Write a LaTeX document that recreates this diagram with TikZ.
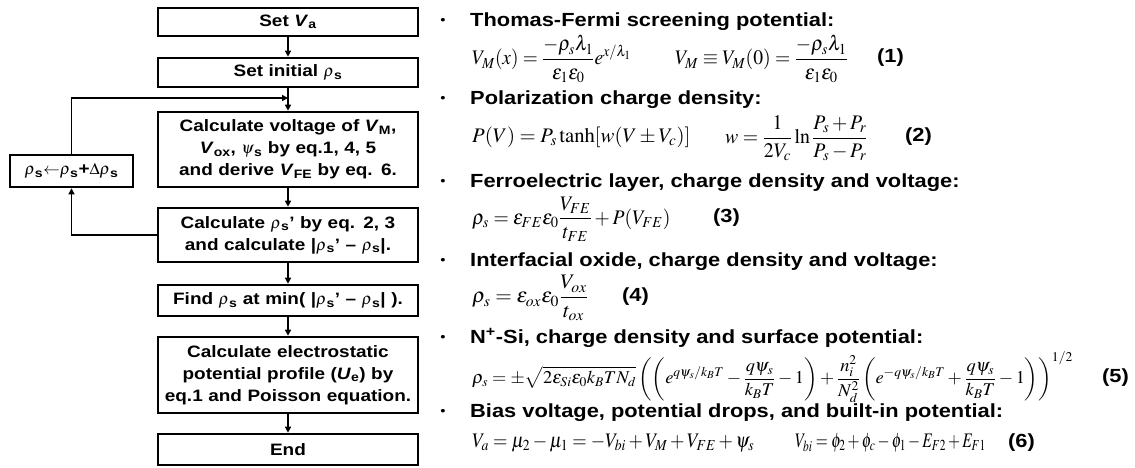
\documentclass[tikz,border=0pt]{standalone}
\usepackage{mathptmx}
\usepackage[no-math]{fontspec}
\setmainfont{Liberation Sans}[FakeStretch=1.15]
\usepackage{graphicx}
\usetikzlibrary{arrows.meta}
\newcommand\flowfont{\fontsize{16.5}{22}\selectfont\bfseries}
\newcommand\headfont{\fontsize{19}{22}\selectfont\bfseries}
\newcommand\eqfont{\fontsize{18}{21}\selectfont}
\newcommand\eqn[3]{\scalebox{#1}[#2]{\eqfont$\displaystyle #3$}}
\tikzset{
  fbox/.style={draw, line width=2.6pt, minimum width=260pt, text width=250pt, align=center, font=\flowfont, inner sep=0pt},
  conn/.style={line width=1.6pt, -{Triangle[length=6pt,width=6pt]}},
  head/.style={anchor=base west, font=\headfont, inner sep=0pt},
  bul/.style={anchor=base, font=\fontsize{13}{15}\selectfont, inner sep=0pt},
  eq/.style={anchor=west, inner sep=0pt},
  eqnum/.style={anchor=west, font=\headfont, inner sep=0pt}
}
\begin{document}
\begin{tikzpicture}[x=1pt,y=-1pt]
\useasboundingbox[fill=white] (0,0) rectangle (1135,468);
% flowchart
\node[fbox, minimum height=28pt] (b1) at (288,22) {Set \textit{V}\textsubscript{a}};
\node[fbox, minimum height=29pt] (b2) at (288,72.5) {Set initial $\rho$\textsubscript{s}};
\node[fbox, minimum height=75pt] (b3) at (288,149.5) {Calculate voltage of \textit{V}\textsubscript{M},\\ \textit{V}\textsubscript{ox}, $\psi$\textsubscript{s} by eq.1, 4, 5\\ and derive \textit{V}\textsubscript{FE} by eq. 6.};
\node[fbox, minimum height=54pt] (b4) at (288,235) {Calculate $\rho$\textsubscript{s}' by eq. 2, 3\\ and calculate |$\rho$\textsubscript{s}' – $\rho$\textsubscript{s}|.};
\node[fbox, minimum height=31pt] (b5) at (288,300.5) {Find $\rho$\textsubscript{s} at min( |$\rho$\textsubscript{s}' – $\rho$\textsubscript{s}| ).};
\node[fbox, minimum height=76pt] (b6) at (288,375) {Calculate electrostatic\\ potential profile (\textit{U}\textsubscript{e}) by\\ eq.1 and Poisson equation.};
\node[fbox, minimum height=31pt] (b7) at (288,449.5) {End};
\node[fbox, minimum width=123pt, text width=118pt, minimum height=32pt] (lb) at (71.5,171) {$\rho$\textsubscript{s}$\leftarrow$$\rho$\textsubscript{s}+$\Delta\rho$\textsubscript{s}};
\coordinate (j) at (288,98);
\draw[conn] (b1) -- (b2);
\draw[conn] (b2) -- (b3);
\draw[conn] (b3) -- (b4);
\draw[conn] (b4) -- (b5);
\draw[conn] (b5) -- (b6);
\draw[conn] (b6) -- (b7);
\draw[conn] (b4.west) -| (lb.south);
\draw[conn] (lb.north) |- (j);
% equations
\node[bul] (u1) at (443,25) {•};
\node[head] (h1) at (470,27) {Thomas-Fermi screening potential:};
\node[eq] (e1a) at (472,59) {\eqn{1.07}{1.15}{V_M(x)=\frac{-\rho_s\lambda_1}{\varepsilon_1\varepsilon_0}e^{x/\lambda_1}}};
\node[eq] (e1b) at (675,59) {\eqn{1.09}{1.15}{V_M\equiv V_M(0)=\frac{-\rho_s\lambda_1}{\varepsilon_1\varepsilon_0}}};
\node[eqnum] (n1) at (877,58) {(1)};
\node[bul] (u2) at (443,103) {•};
\node[head] (h2) at (470,105) {Polarization charge density:};
\node[eq] (e2a) at (472,137) {\eqn{1.15}{1.15}{P(V)=P_s\tanh[w(V\pm V_c)]}};
\node[eq] (e2b) at (725,138) {\eqn{1.1}{1.15}{w=\frac{1}{2V_c}\ln\frac{P_s+P_r}{P_s-P_r}}};
\node[eqnum] (n2) at (905,137) {(2)};
\node[bul] (u3) at (443,185) {•};
\node[head] (h3) at (470,187) {Ferroelectric layer, charge density and voltage:};
\node[eq] (e3) at (472,219) {\eqn{1.09}{1.15}{\rho_s=\varepsilon_{FE}\varepsilon_0\frac{V_{FE}}{t_{FE}}+P(V_{FE})}};
\node[eqnum] (n3) at (713,218) {(3)};
\node[bul] (u4) at (443,264) {•};
\node[head] (h4) at (470,266) {Interfacial oxide, charge density and voltage:};
\node[eq] (e4) at (472,298) {\eqn{1.18}{1.15}{\rho_s=\varepsilon_{ox}\varepsilon_0\frac{V_{ox}}{t_{ox}}}};
\node[eqnum] (n4) at (622,297) {(4)};
\node[bul] (u5) at (443,341) {•};
\node[head] (h5) at (470,343) {N\textsuperscript{+}-Si, charge density and surface potential:};
\node[eq] (e5) at (472,377) {\eqn{1.02}{1.0}{\rho_s=\pm\sqrt{2\varepsilon_{Si}\varepsilon_0k_BTN_d}\left(\left(e^{q\psi_s/k_BT}-\frac{q\psi_s}{k_BT}-1\right)+\frac{n_i^2}{N_d^2}\left(e^{-q\psi_s/k_BT}+\frac{q\psi_s}{k_BT}-1\right)\right)^{1/2}}};
\node[eqnum] (n5) at (1102,378) {(5)};
\node[bul] (u6) at (443,415) {•};
\node[head] (h6) at (470,417) {Bias voltage, potential drops, and built-in potential:};
\node[eq] (e6a) at (472,443) {\eqn{1.03}{1.15}{V_a=\mu_2-\mu_1=-V_{bi}+V_M+V_{FE}+\psi_s}};
\node[eq] (e6b) at (795,443) {\eqn{0.86}{1.15}{V_{bi}=\phi_2+\phi_c-\phi_1-E_{F2}+E_{F1}}};
\node[eqnum] (n6) at (1008,443) {(6)};
\end{tikzpicture}
\end{document}
